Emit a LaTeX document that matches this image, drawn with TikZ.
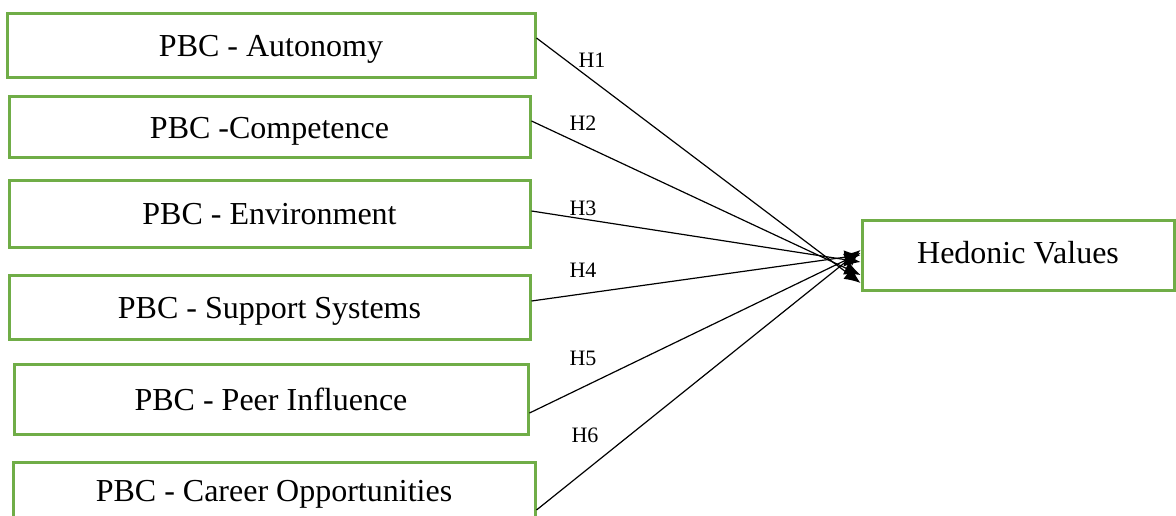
\documentclass[tikz,border=0pt]{standalone}
\usepackage{fontspec}
\setmainfont{Liberation Serif}
\usetikzlibrary{arrows.meta,positioning}
\definecolor{BGreen}{HTML}{70AD47}
\tikzset{
    block/.style = {draw=BGreen, line width=1.5pt, rectangle,
        minimum width=260.5pt, minimum height=32pt,
        inner sep=0pt, text height=14pt, text depth=3pt,
        font=\fontsize{16}{18}\selectfont, align=center},
    hyp/.style = {inner sep=0pt, font=\fontsize{11}{13}\selectfont},
    arrow/.style = {draw, line width=0.6pt, -{Latex[length=8pt,width=7pt]}}
}

\begin{document}
\begin{tikzpicture}[x=0.5pt,y=0.5pt]
            \useasboundingbox (0,0) rectangle (1176,515);
            \node [block, minimum width=264pt] (auto) at (271,469) {PBC - Autonomy};
            \node [block, minimum height=30pt] (comp) at (269.5,388) {PBC -Competence};
            \node [block, minimum height=33.5pt] (env) at (269.5,301.5) {PBC - Environment};
            \node [block] (supp) at (269.5,208) {PBC - Support Systems};
            \node [block, minimum width=257pt, minimum height=35pt] (peer) at (271,116) {PBC - Peer Influence};
            \node [block, minimum width=261pt, minimum height=34pt] (career) at (274,19) {\raisebox{3pt}{PBC - Career Opportunities}};
            \node [block, minimum width=156pt, minimum height=35pt] (hedon) at (1018,260) {\raisebox{1.5pt}{Hedonic Values}};
            % hypotheses
            \node [hyp] (h1) at (592,455) {H1};
            \node [hyp] (h2) at (583,392) {H2};
            \node [hyp] (h3) at (583,307) {H3};
            \node [hyp] (h4) at (583,245) {H4};
            \node [hyp] (h5) at (583,157) {H5};
            \node [hyp] (h6) at (585,80) {H6};
            \draw [arrow] ([yshift=4pt]auto.east) -- ([yshift=-14pt]hedon.west);
            \draw [arrow] ([yshift=3pt]comp.east) -- ([yshift=-10pt]hedon.west);
            \draw [arrow] ([yshift=1.25pt]env.east) -- ([yshift=-3.5pt]hedon.west);
            \draw [arrow] ([yshift=3pt]supp.east) -- (hedon.west);
            \draw [arrow] ([yshift=-7pt]peer.east) -- ([yshift=1pt]hedon.west);
            \draw [arrow] ([yshift=-7pt]career.east) -- ([yshift=2.5pt]hedon.west);
        \end{tikzpicture}
\end{document}
